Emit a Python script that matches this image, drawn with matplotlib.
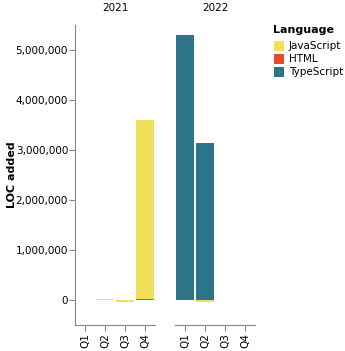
import matplotlib
matplotlib.use("Agg")
import matplotlib.pyplot as plt
import numpy as np
from matplotlib.patches import Rectangle

years = ["2021", "2022"]
quarters = ["Q1", "Q2", "Q3", "Q4"]
languages = ["JavaScript", "HTML", "TypeScript"]
colors = {"JavaScript": "#f1e05a", "HTML": "#e34c26", "TypeScript": "#2b7489"}

# LOC added per language, per year, per quarter
javascript = {"2021": [0, 15000, -30000, 3580000], "2022": [10000, -40000, 0, 0]}
html = {"2021": [0, 8000, 0, 12000], "2022": [0, 0, 0, 0]}
typescript = {"2021": [0, 0, 0, 0], "2022": [5300000, 3150000, 8000, 0]}
series = {"JavaScript": javascript, "HTML": html, "TypeScript": typescript}
stack_order = ["TypeScript", "HTML", "JavaScript"]

yticks = [0, 1000000, 2000000, 3000000, 4000000, 5000000]

W, H = 345, 351
fig = plt.figure(figsize=(W / 100, H / 100), dpi=100)

def ax_rect(x0, y0, x1, y1):
    return [x0 / W, 1 - y1 / H, (x1 - x0) / W, (y1 - y0) / H]

ymin, ymax = -500000, 5500000
axes_pos = [(75, 25, 155, 325), (175, 25, 255, 325)]
gray = "#888888"
for i, yr in enumerate(years):
    ax = fig.add_axes(ax_rect(*axes_pos[i]))
    ax.set_xlim(0, 4)
    ax.set_ylim(ymin, ymax)
    for q in range(4):
        pos = 0.0
        neg = 0.0
        for lang in stack_order:
            v = series[lang][yr][q]
            if v == 0:
                continue
            if v > 0:
                ax.bar(q + 0.5, v, bottom=pos, width=0.9, color=colors[lang], linewidth=0)
                pos += v
            else:
                ax.bar(q + 0.5, v, bottom=neg, width=0.9, color=colors[lang], linewidth=0)
                neg += v
    for s in ["top", "right"]:
        ax.spines[s].set_visible(False)
    ax.spines["bottom"].set_color(gray)
    ax.spines["left"].set_color(gray)
    ax.set_xticks(np.arange(4) + 0.5)
    ax.set_xticklabels(quarters, rotation=90, fontsize=7.5)
    ax.tick_params(axis="x", length=4, color=gray, pad=2)
    if i == 0:
        ax.spines["left"].set_visible(True)
        ax.set_yticks(yticks)
        ax.set_yticklabels([f"{t:,}" for t in yticks], fontsize=7.5)
        ax.tick_params(axis="y", length=4, color=gray, pad=1)
    else:
        ax.spines["left"].set_visible(False)
        ax.set_yticks([])
    ax.set_title(yr, fontsize=7.5, pad=10)
    ax.patch.set_alpha(0)

fig.text(12 / W, 1 - 175 / H, "LOC added", fontsize=8, fontweight="bold",
         rotation=90, va="center", ha="center")

# legend
fig.text(273 / W, 1 - 30 / H, "Language", fontsize=8, fontweight="bold", va="center", ha="left")
for j, lang in enumerate(languages):
    yc = 46 + 13 * j
    fig.patches.append(Rectangle((274 / W, 1 - (yc + 5) / H), 10 / W, 10 / H,
                                 transform=fig.transFigure, color=colors[lang], linewidth=0))
    fig.text(289 / W, 1 - yc / H, lang, fontsize=7.5, va="center", ha="left")

fig.savefig("out.png", dpi=100)
